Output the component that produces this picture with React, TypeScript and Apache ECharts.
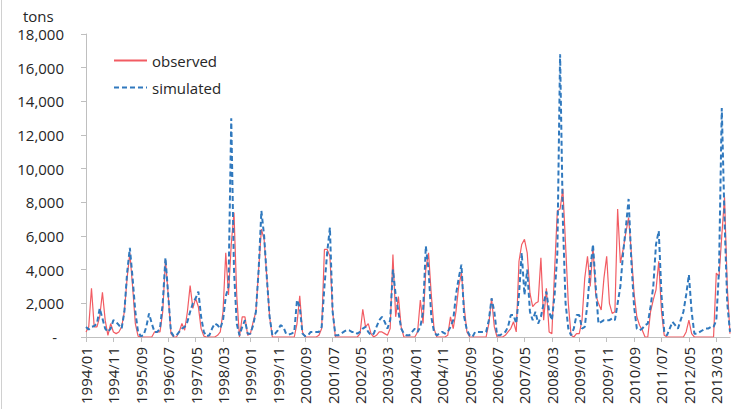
import React, { useEffect, useRef } from 'react';
import * as echarts from 'echarts';

const startYear = 1994;
const pointCount = 236;
const categories: string[] = [];
for (let k = 0; k < pointCount; k++) {
  const y = startYear + Math.floor(k / 12);
  const m = (k % 12) + 1;
  categories.push(`${y}/${m < 10 ? '0' + m : m}`);
}

const observed = [
  300, 600, 2900, 600, 600, 1200, 2650, 1000, 100, 800, 300, 200,
  300, 600, 1500, 3500, 5000, 3000, 800, 50, 0, 0, 0, 0,
  0, 300, 300, 300, 1500, 4600, 2500, 200, 0, 0, 300, 800,
  400, 1500, 3050, 1700, 2300, 1800, 500, 50, 0, 0, 0, 0,
  100, 300, 1500, 5000, 2500, 5500, 7400, 2500, 0, 1200, 1200, 100,
  200, 900, 1500, 4000, 6400, 5800, 3500, 1200, 0, 0, 0, 0,
  0, 0, 0, 0, 0, 800, 2450, 300, 0, 0, 0, 0,
  0, 100, 500, 5200, 5200, 4800, 1500, 0, 0, 0, 0, 0,
  0, 0, 0, 0, 200, 1650, 600, 800, 200, 0, 100, 300,
  300, 200, 100, 500, 4900, 1200, 2400, 600, 0, 0, 0, 0,
  0, 300, 2200, 800, 4000, 5000, 2500, 500, 0, 0, 0, 0,
  100, 1200, 500, 1500, 3000, 3800, 1800, 300, 0, 0, 0, 0,
  0, 0, 0, 800, 2300, 600, 0, 0, 0, 100, 300, 500,
  900, 300, 4500, 5500, 5800, 5000, 2600, 1800, 2000, 2100, 4700, 1000,
  2900, 300, 200, 4000, 7500, 7600, 8800, 5500, 2000, 100, 0, 200,
  200, 1000, 3500, 4800, 3000, 5400, 2500, 2000, 1600, 3500, 4800, 2000,
  1400, 1500, 7600, 4400, 5200, 6200, 7100, 5000, 2600, 1200, 700, 400,
  0, 0, 1500, 2200, 2800, 4500, 1500, 100, 0, 0, 0, 0,
  0, 0, 0, 300, 1000, 200, 0, 0, 0, 0, 0, 0,
  0, 0, 3800, 3600, 6000, 8300, 3000, 200,
];

const simulated = [
  600, 450, 600, 650, 800, 1700, 1100, 500, 300, 500, 1000, 900,
  700, 500, 1500, 3800, 5300, 3500, 1500, 300, 50, 100, 600, 1400,
  800, 300, 300, 500, 2000, 4700, 2500, 300, 50, 100, 300, 500,
  600, 900, 1500, 2000, 2300, 2700, 1200, 300, 50, 100, 500, 800,
  700, 500, 1000, 2400, 3000, 13000, 4000, 800, 100, 600, 1000, 200,
  200, 700, 1500, 4000, 7500, 6000, 3500, 1200, 100, 200, 400, 700,
  600, 200, 150, 200, 300, 2200, 1800, 200, 50, 100, 300, 300,
  300, 300, 600, 3000, 5000, 6500, 1500, 100, 100, 200, 300, 400,
  400, 300, 300, 200, 300, 500, 600, 300, 100, 200, 600, 1000,
  1200, 900, 500, 1000, 4000, 2500, 1500, 500, 200, 100, 100, 300,
  500, 300, 600, 1500, 5400, 4000, 1200, 300, 100, 200, 300, 200,
  300, 600, 1000, 2500, 3500, 4300, 1200, 400, 100, 0, 300, 300,
  300, 300, 300, 1000, 2300, 1500, 100, 100, 200, 300, 600, 1300,
  1300, 800, 2500, 5000, 2500, 4000, 1500, 1000, 1500, 800, 1200, 2000,
  2700, 1500, 1000, 2500, 5000, 16800, 7000, 2000, 500, 100, 500, 1300,
  1300, 500, 600, 2000, 4000, 5500, 3000, 800, 900, 1000, 1000, 1000,
  1100, 1000, 2000, 3000, 5000, 6500, 8200, 4500, 1800, 500, 400, 500,
  700, 800, 1800, 3000, 5500, 6300, 2500, 300, 100, 500, 900, 700,
  500, 1000, 1500, 2500, 3700, 1500, 200, 200, 300, 400, 500, 500,
  600, 600, 1000, 4000, 13600, 7000, 2000, 300,
];

const yMin = 0;
const yMax = 18000;
const yStep = 2000;
const unitLabel = 'tons';

const FONT = '"Open Sans", "Noto Sans", sans-serif';

export default function App() {
  const ref = useRef<HTMLDivElement>(null);
  useEffect(() => {
    if (!ref.current) return;
    const chart = echarts.init(ref.current, undefined, { renderer: 'svg' });
    chart.setOption({
      animation: false,
      backgroundColor: '#ffffff',
      textStyle: { fontFamily: FONT },
      grid: { left: 86, right: 2, top: 34, bottom: 72, containLabel: false },
      legend: {
        orient: 'vertical',
        left: 113,
        top: 53,
        padding: 0,
        itemWidth: 33,
        itemHeight: 14,
        itemGap: 12,
        itemStyle: { opacity: 0 },
        textStyle: { fontFamily: FONT, fontSize: 15, color: '#262626' },
        data: ['observed', 'simulated'],
      },
      graphic: [
        {
          type: 'text',
          left: 23,
          top: 8,
          style: { text: unitLabel, fontFamily: FONT, fontSize: 15, fill: '#262626' },
        },
        {
          type: 'line',
          shape: { x1: 1.5, y1: 0, x2: 1.5, y2: 409 },
          style: { stroke: '#d0d0d0', lineWidth: 1 },
        },
      ],
      xAxis: {
        type: 'category',
        data: categories,
        boundaryGap: false,
        axisLine: { show: true, lineStyle: { color: '#bfbfbf', width: 1 } },
        axisTick: { show: true, interval: 9, length: 5, lineStyle: { color: '#bfbfbf' } },
        axisLabel: {
          interval: 9,
          rotate: 90,
          margin: 10,
          fontFamily: FONT,
          fontSize: 15,
          color: '#262626',
        },
        splitLine: { show: false },
      },
      yAxis: {
        type: 'value',
        min: yMin,
        max: yMax,
        interval: yStep,
        axisLine: { show: true, lineStyle: { color: '#bfbfbf', width: 1 } },
        axisTick: { show: true, length: 5, lineStyle: { color: '#bfbfbf' } },
        axisLabel: {
          margin: 22,
          fontFamily: FONT,
          fontSize: 15,
          color: '#262626',
          formatter: (v: number) => (v === 0 ? '{z|-}' : v.toLocaleString('en-US')),
          rich: { z: { fontFamily: FONT, fontSize: 15, color: '#262626', padding: [0, 7, 0, 0] } },
        },
        splitLine: { show: false },
      },
      series: [
        {
          name: 'observed',
          type: 'line',
          data: observed,
          symbol: 'none',
          showSymbol: false,
          lineStyle: { color: '#f25c63', width: 1.2 },
          itemStyle: { color: '#f25c63' },
        },
        {
          name: 'simulated',
          type: 'line',
          data: simulated,
          symbol: 'none',
          showSymbol: false,
          lineStyle: { color: '#3079be', width: 2, type: [5, 3] },
          itemStyle: { color: '#3079be' },
        },
      ],
    });
    return () => chart.dispose();
  }, []);
  return (
    <div
      ref={ref}
      style={{ position: 'fixed', left: 0, top: 0, width: 732, height: 409, background: '#fff' }}
    />
  );
}
